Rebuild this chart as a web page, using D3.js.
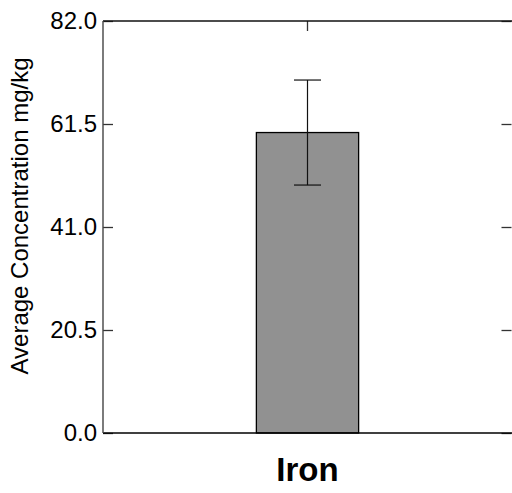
<!DOCTYPE html>
<html><head><meta charset="utf-8">
<script src="https://cdn.jsdelivr.net/npm/d3@7"></script>
<style>body{margin:0;background:#fff}svg{display:block}</style>
</head><body>
<script>
const categories = ["Iron"];
const means = [59.8];
const errors = [10.45];
const yTicks = [0, 20.5, 41, 61.5, 82];

const W = 512, H = 493;
const m = {left: 103, right: 0, top: 21, bottom: 60};
const svg = d3.select("body").append("svg").attr("width", W).attr("height", H);
const x = d3.scaleBand().domain(categories).range([m.left, W]).paddingInner(0).paddingOuter(1.5);
const y = d3.scaleLinear().domain([0, 82]).range([H - m.bottom, m.top]);
const font = "Liberation Sans, Arial, sans-serif";

// bars
svg.selectAll("rect.bar").data(categories).enter().append("rect")
  .attr("x", d => x(d))
  .attr("width", x.bandwidth())
  .attr("y", (d,i) => y(means[i]))
  .attr("height", (d,i) => y(0) - y(means[i]))
  .attr("fill", "#919191").attr("stroke", "#000").attr("stroke-width", 1.3);

// error bars
const cx = (d) => x(d) + x.bandwidth()/2;
categories.forEach((c,i) => {
  const g = svg.append("g").attr("stroke", "#111").attr("stroke-width", 1.2);
  g.append("line").attr("x1", cx(c)).attr("x2", cx(c)).attr("y1", y(means[i]+errors[i])).attr("y2", y(means[i]-errors[i]));
  [means[i]+errors[i], means[i]-errors[i]].forEach(v => g.append("line").attr("x1", cx(c)-13.5).attr("x2", cx(c)+13.5).attr("y1", y(v)).attr("y2", y(v)));
});

// axes
const gLeft = svg.append("g").attr("transform", `translate(${m.left},0)`)
  .call(d3.axisLeft(y).tickValues(yTicks).tickFormat(d3.format(".1f")).tickSizeInner(-10).tickSizeOuter(0).tickPadding(6));
const gRight = svg.append("g").attr("transform", `translate(${W - 0.5},0)`)
  .call(d3.axisRight(y).tickValues(yTicks).tickFormat("").tickSizeInner(-10).tickSizeOuter(0));
const gBottom = svg.append("g").attr("transform", `translate(0,${y(0)})`)
  .call(d3.axisBottom(x).tickSizeInner(0).tickSizeOuter(0).tickPadding(25));
const gTop = svg.append("g").attr("transform", `translate(0,${m.top})`)
  .call(d3.axisTop(x).tickFormat("").tickSizeInner(-10).tickSizeOuter(0));
[gLeft, gRight, gBottom, gTop].forEach(g => {
  g.selectAll("path.domain").remove();
  g.selectAll("line").attr("stroke", "#333").attr("stroke-width", 1.3);
});
svg.append("line").attr("x1", m.left).attr("x2", W).attr("y1", y(0)).attr("y2", y(0)).attr("stroke", "#000").attr("stroke-width", 1.4);
svg.append("line").attr("x1", m.left).attr("x2", W).attr("y1", m.top).attr("y2", m.top).attr("stroke", "#111").attr("stroke-width", 1.4);
svg.append("line").attr("x1", m.left).attr("x2", m.left).attr("y1", m.top).attr("y2", y(0)).attr("stroke", "#444").attr("stroke-width", 1.4);

gLeft.selectAll("text").attr("font-family", font).attr("font-size", 24).attr("fill", "#000");
gBottom.selectAll("text").attr("font-family", font).attr("font-size", 33).attr("font-weight", "bold").attr("fill", "#000")
  .attr("dy", "0.71em");

svg.append("text").attr("transform", `translate(28,216) rotate(-90)`)
  .attr("text-anchor", "middle").attr("font-family", font).attr("font-size", 24)
  .text("Average Concentration mg/kg");
</script>
</body></html>
